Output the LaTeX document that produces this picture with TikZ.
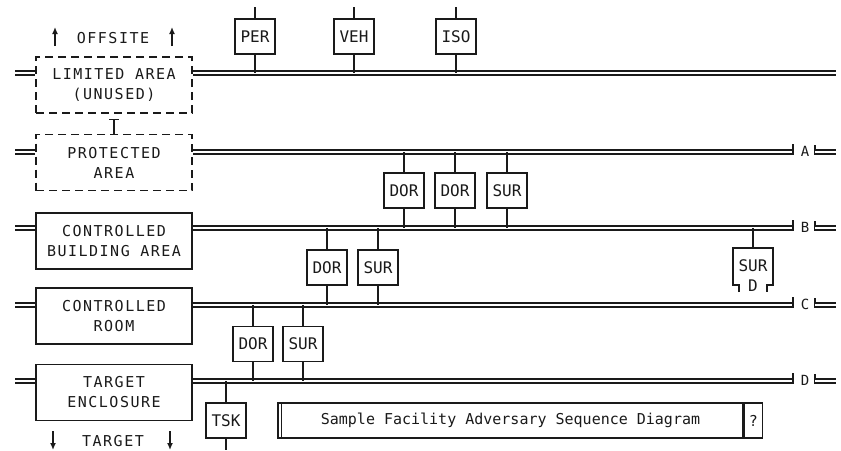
\documentclass[tikz,border=0pt]{standalone}
\usepackage{fontspec}
\setmonofont{DejaVu Sans Mono}
\newfontfamily\spacedmono[LetterSpace=10]{DejaVu Sans Mono}
\usepackage{tikz}
\usetikzlibrary{arrows.meta,positioning,calc}
\definecolor{ink}{HTML}{1A1A1A}

\begin{document}
\begin{tikzpicture}[x=1pt,y=-1pt,ink,line width=1.3pt,
  every node/.style={font=\spacedmono\fontsize{15}{20}\selectfont,text=ink},
  zone/.style={draw,line width=1.3pt,minimum width=156pt,minimum height=56pt,align=center,inner sep=0pt},
  unused/.style={zone,dash pattern=on 8pt off 5pt},
  sensor/.style={draw,line width=1.3pt,minimum width=40pt,minimum height=35pt,inner sep=0pt},
  layer/.style={double=white,double distance=2.6pt,line width=1.6pt},
  tie/.style={line width=1.5pt},
  tag/.style={font=\ttfamily\fontsize{14}{14}\selectfont},
  pointer/.style={line width=1.4pt,-{Latex[length=7pt,width=6pt]}}]
  \useasboundingbox[fill=white] (0,0) rectangle (841,450);

  % security zones
  \node[unused] (lim)  at (114,85)    {LIMITED AREA\\(UNUSED)};
  \node[unused] (prot) at (114,162.5) {PROTECTED\\AREA};
  \node[zone]   (cba)  at (114,241)   {CONTROLLED\\BUILDING AREA};
  \node[zone]   (room) at (114,316)   {CONTROLLED\\ROOM};
  \node[zone]   (tenc) at (114,392.5) {TARGET\\ENCLOSURE};
  \draw[{Bar[width=10pt]}-] ([yshift=-5pt]lim.south) -- (prot.north);

  \node (offsite) at (113,38) {OFFSITE};
  \draw[pointer] ([xshift=-58pt,yshift=-8pt]offsite.center) -- ([xshift=-58pt,yshift=11pt]offsite.center);
  \draw[pointer] ([xshift=59pt,yshift=-8pt]offsite.center) -- ([xshift=59pt,yshift=11pt]offsite.center);
  \node (target) at (113,441) {TARGET};
  \draw[pointer] ([xshift=-60pt,yshift=10pt]target.center) -- ([xshift=-60pt,yshift=-9pt]target.center);
  \draw[pointer] ([xshift=57pt,yshift=10pt]target.center) -- ([xshift=57pt,yshift=-9pt]target.center);

  % layer lines
  \coordinate (top) at (0,7);
  \coordinate (bot) at (0,450);
  \coordinate (s0) at (15,73);
  \draw[layer] (s0) -- (s0 -| lim.west);
  \draw[layer] (s0 -| lim.east) -- (836,73);
  \foreach \zn/\ly/\ltr in {prot/152/A,cba/228/B,room/305/C,tenc/381/D}{
    \coordinate (s\ltr) at (15,\ly);
    \coordinate (e\ltr) at (793,\ly);
    \coordinate (m\ltr) at (815,\ly);
    \draw[layer] (s\ltr) -- (s\ltr -| \zn.west);
    \draw[layer] (s\ltr -| \zn.east) -- (e\ltr);
    \draw ([yshift=8pt]e\ltr) -- ([yshift=-3pt]e\ltr);
    \node[tag] (t\ltr) at (805,\ly-1) {\ltr};
    \draw ([yshift=7pt]m\ltr) -- ([yshift=-3pt]m\ltr);
    \draw[layer] (m\ltr) -- (836,\ly);
  }

  % detection and delay elements
  \foreach \nm/\lbl/\cx/\cy/\up/\dn in {per/PER/255/36.5/top/s0,veh/VEH/354/36.5/top/s0,iso/ISO/456/36.5/top/s0,
      dorA/DOR/404/190.5/sA/sB,dorB/DOR/455/190.5/sA/sB,surA/SUR/507/190.5/sA/sB,
      dorC/DOR/327/267.5/sB/sC,surB/SUR/378/267.5/sB/sC,
      dorD/DOR/253/344/sC/sD,surC/SUR/303/344/sC/sD,
      tsk/TSK/226/420.5/sD/bot}{
    \node[sensor,font=\ttfamily\fontsize{16}{20}\selectfont] (\nm) at (\cx,\cy) {\lbl};
    \draw[tie] (\nm.north) -- (\nm.north |- \up);
    \draw[tie] (\nm.south) -- (\nm.south |- \dn);
  }

  \node[font=\ttfamily\fontsize{16}{20}\selectfont] (surD) at (753,266) {SUR};
  \node[font=\ttfamily\fontsize{16}{20}\selectfont] (surDd) at (753,286) {D};
  \draw (739,292) -- (739,285) -- (733,285) -- (733,248) -- (773,248) -- (773,285) -- (767,285) -- (767,292);
  \coordinate (surDtop) at (753,248);
  \draw[tie] (surDtop) -- (surDtop |- sB);

  % caption
  \node[draw,minimum width=465pt,minimum height=35pt,inner sep=0pt,font=\ttfamily\fontsize{15}{18}\selectfont] (title) at (510.5,420.5) {Sample Facility Adversary Sequence Diagram};
  \draw ([xshift=4pt]title.north west) -- ([xshift=4pt]title.south west);
  \node[draw,minimum width=18pt,minimum height=35pt,inner sep=0pt,anchor=west] (help) at (title.east) {?};
\end{tikzpicture}
\end{document}
